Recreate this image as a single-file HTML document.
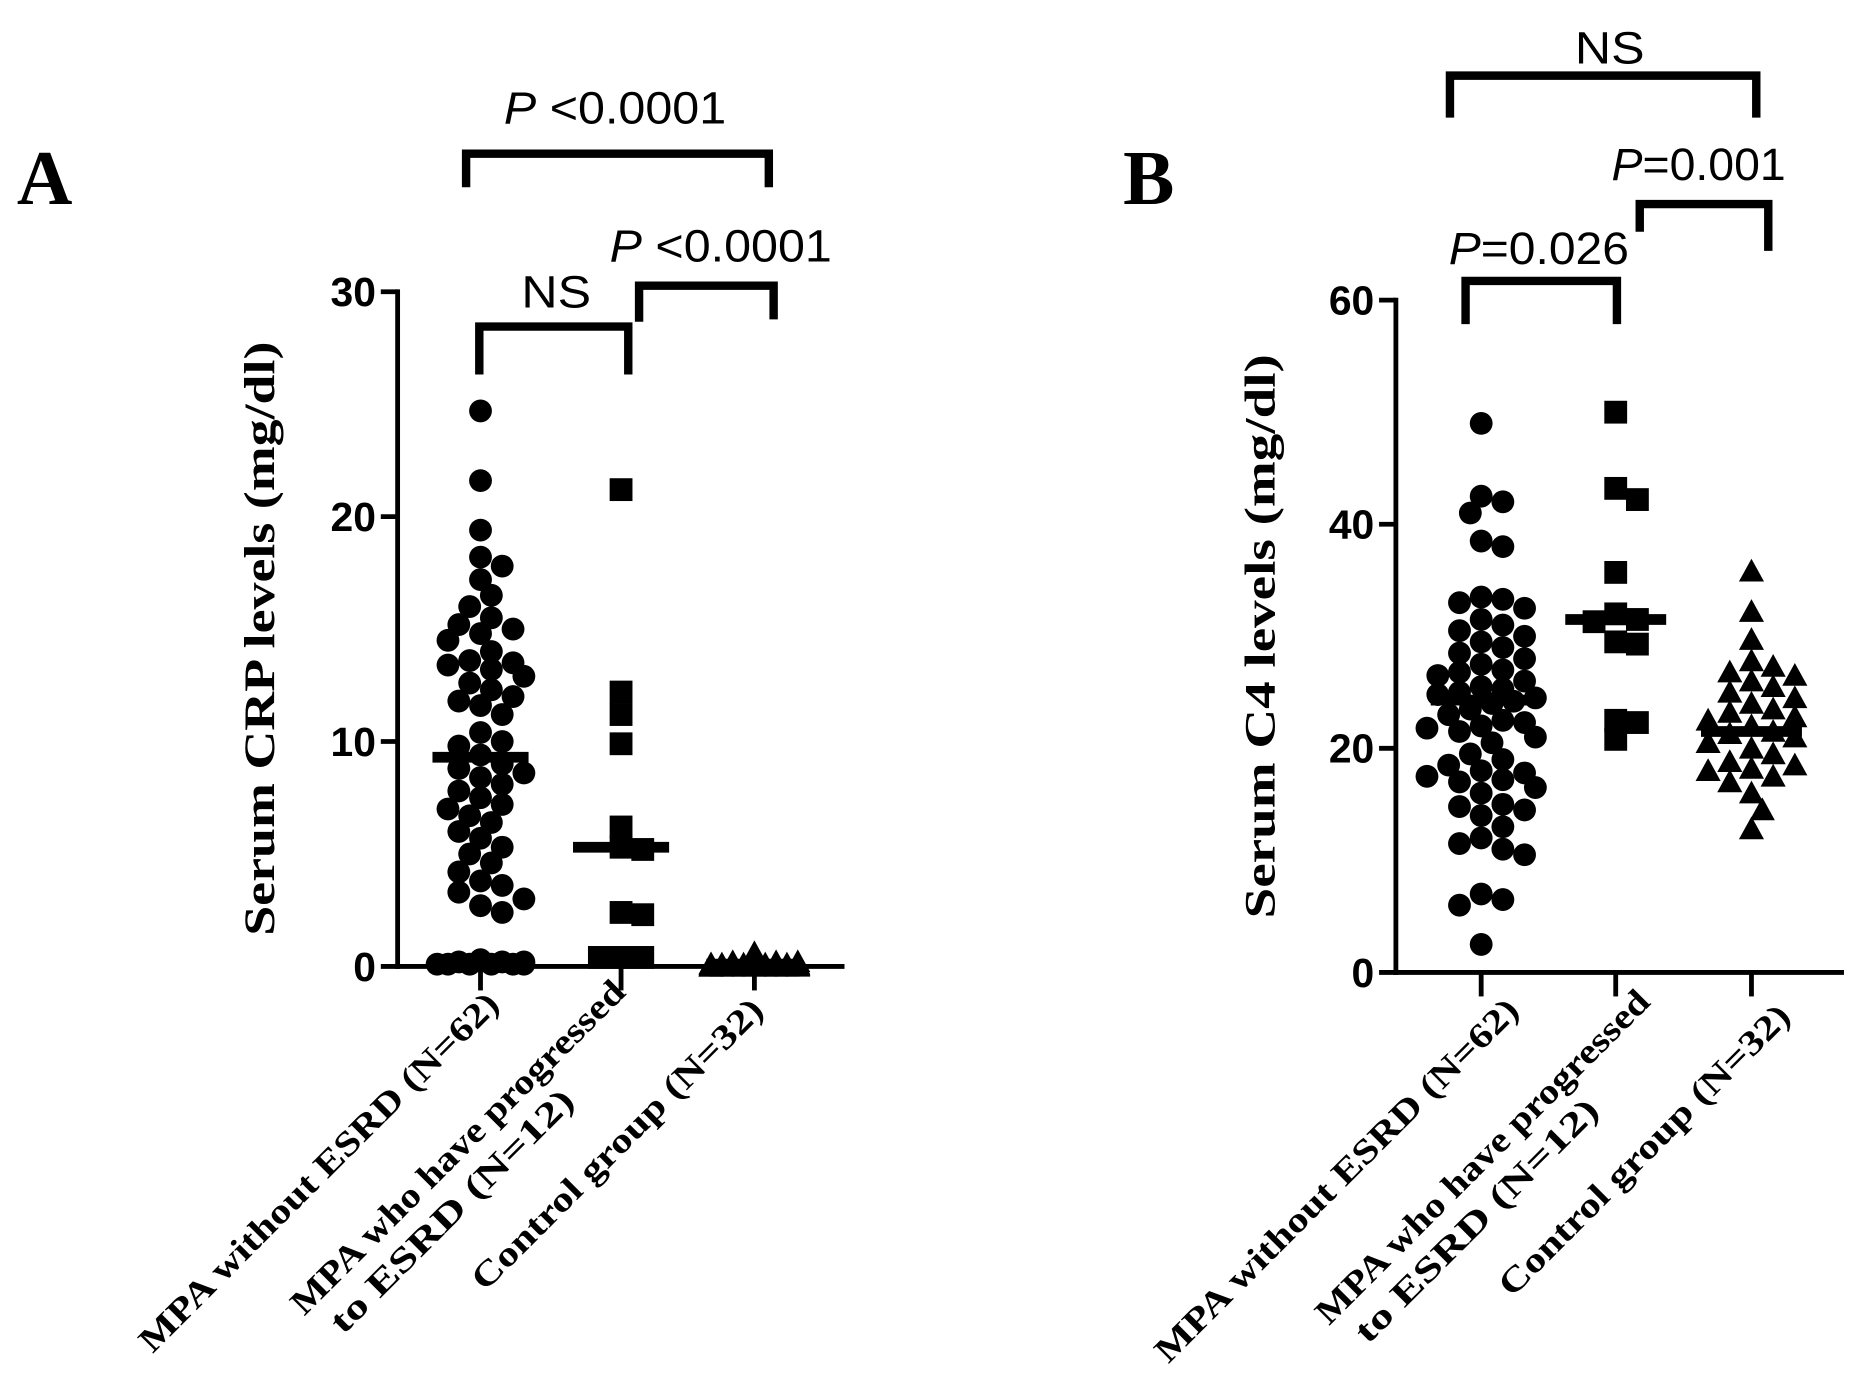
<!DOCTYPE html>
<html><head><meta charset="utf-8"><title>CRP and C4 levels</title>
<style>html,body{margin:0;padding:0;background:#fff;}svg{display:block;}</style></head>
<body>
<svg id="fig" xmlns="http://www.w3.org/2000/svg" width="1874" height="1389" viewBox="0 0 1560 1157" preserveAspectRatio="none">
<rect width="1560" height="1157" fill="#fff"/>
<g id="panelA"></g>
<g id="panelB"></g>
</svg>
<script>
// ---------- DATA ----------
const categories = ["MPA without  ESRD (N=62)", "MPA who have progressed|to ESRD (N=12)", "Control group (N=32)"];
const crpTicks = [0, 10, 20, 30];
const c4Ticks = [0, 20, 40, 60];
const crpGroup1 = [24.7,21.6,19.4,18.2,17.8,17.2,16.5,16.0,15.5,15.2,15.0,14.8,14.5,14.0,13.6,13.5,13.4,13.2,12.9,12.6,12.3,12.0,11.8,11.6,11.2,10.4,10.0,9.8,9.4,9.0,8.8,8.6,8.4,8.1,7.8,7.5,7.2,7.0,6.7,6.4,6.0,5.7,5.3,5.0,4.6,4.2,3.8,3.6,3.3,3.0,2.7,2.4,0.3,0.2,0.2,0.1,0.1,0.1,0.1,0.2,0.1,0.1];
const crpGroup2 = [21.2,12.2,11.2,9.9,6.2,5.3,5.2,2.4,2.3,0.4,0.4,0.4];
const crpGroup3 = [0.6,0.2,0.2,0.2,0.1,0.1,0.1,0.1,0.1,0.1,0.1,0.1,0.05,0.05,0.05,0.05,0.05,0.05,0.05,0.05,0.05,0.05,0.0,0.0,0.0,0.0,0.0,0.0,0.0,0.0,0.0,0.0];
const crpMedians = [9.3, 5.3, 0.1];
const c4Group1 = [49,42.5,42,41,38.5,38,33.5,33.3,33,32.5,31.5,31,30.5,30,29.5,29,28.5,28,27.5,27,26.8,26.5,26,25.5,25.3,25,24.8,24.5,24.2,24,23.5,23,22.5,22.3,22,21.8,21.5,21,20.5,19.5,19,18.5,18,17.8,17.5,17.2,17,16.5,16,15,14.8,14.5,14,13,12,11.5,11,10.5,7,6.5,6,2.5];
const c4Group2 = [50,43.2,42.2,35.7,32,31.5,31.3,29.5,29.3,22.5,22.3,20.8];
const c4Group3 = [35.8,32.2,29.7,27.8,27.3,26.8,26.5,26,25.5,25,24.5,24,23.5,23.2,22.8,22.5,22,21.5,21.3,21,20.5,20,19.5,18.8,18.5,18.2,18,17.5,17,16,14.5,12.8];
const c4Medians = [24.3, 31.5, 21.5];
const crpPvals = ["P <0.0001", "NS", "P <0.0001"];
const c4Pvals = ["NS", "P=0.026", "P=0.001"];

// ---------- HELPERS ----------
const NS = "http://www.w3.org/2000/svg";
function mk(parent, tag, attrs, text) {
  const e = document.createElementNS(NS, tag);
  for (const k in attrs) e.setAttribute(k, attrs[k]);
  if (text !== undefined) e.textContent = text;
  parent.appendChild(e);
  return e;
}
function swarm(values, xc, yS, r, maxK) {
  const order = values.map((v, i) => i).sort((a, b) => values[b] - values[a]);
  const placed = []; const out = new Array(values.length);
  const step = r * 0.95;
  const lim = 2 * r * 0.8;
  order.forEach(i => {
    const y = yS(values[i]);
    let best = 0, bestPen = Infinity;
    for (let t = 0; t <= 2 * maxK; t++) {
      const k = t === 0 ? 0 : (t % 2 ? (t + 1) / 2 : -t / 2);
      const x = xc + k * step;
      let pen = 0;
      placed.forEach(p => { const d = Math.hypot(p.x - x, p.y - y); if (d < lim) pen += (lim - d); });
      if (pen < bestPen) { bestPen = pen; best = x; }
      if (pen === 0) break;
    }
    placed.push({ x: best, y: y }); out[i] = { x: best, y: y };
  });
  return out;
}

function panel(g, cfg) {
  const yS = v => cfg.y0 + (cfg.yTop - cfg.y0) * (v / cfg.yMax);
  let e;
  e = mk(g, "line", { x1: cfg.ax, y1: yS(cfg.yMax) - 2, x2: cfg.ax, y2: cfg.y0 + 2, stroke: "#000", "stroke-width": 4 });
  
  
  e = mk(g, "line", { x1: cfg.ax - 2, y1: cfg.y0, x2: cfg.axEnd, y2: cfg.y0, stroke: "#000", "stroke-width": 4 });
  
  
  cfg.ticks.forEach(t => {
    const y = yS(t);
    const l = mk(g, "line", { x1: cfg.ax - 14, y1: y, x2: cfg.ax, y2: y, stroke: "#000", "stroke-width": 4 });
    
    
    const tx = mk(g, "text", { x: cfg.ax - 18, y: y + 12, "text-anchor": "end", "font-family": "Liberation Sans, sans-serif", "font-weight": "bold", "font-size": 34 }, String(t));
    
    
  });
  cfg.cx.forEach(x => {
    const l = mk(g, "line", { x1: x, y1: cfg.y0, x2: x, y2: cfg.y0 + 20, stroke: "#000", "stroke-width": 4 });
    
    
  });
  const yt = mk(g, "text", { transform: `translate(${cfg.titleX},${cfg.titleY}) rotate(-90)`, "text-anchor": "middle", "font-family": "Liberation Serif, serif", "font-weight": "bold", "font-size": 36, textLength: cfg.titleLen, lengthAdjust: "spacingAndGlyphs" }, cfg.title);
  
  
  const pl = mk(g, "text", { x: cfg.letterX, y: 170, "font-family": "Liberation Serif, serif", "font-weight": "bold", "font-size": 64 }, cfg.letter);
  
  
  categories.forEach((c, i) => {
    const lab = cfg.labels[i];
    const lines = c.split("|");
    const lg = mk(g, "g", { transform: `translate(${lab.x},${lab.y}) rotate(-45)` });
    
    
    lines.forEach((ln, j) => {
      const t = mk(lg, "text", { x: j === 0 ? 0 : -lab.len + 12, y: j * 34, "text-anchor": j === 0 ? "end" : "start", "font-family": "Liberation Serif, serif", "font-weight": "bold", "font-size": 29, textLength: j === 0 ? lab.len : lab.len2, lengthAdjust: "spacingAndGlyphs" }, ln);
      
      
    });
  });
  cfg.groups.forEach((vals, gi) => {
    const pts = swarm(vals, cfg.cx[gi], yS, cfg.r, cfg.maxK[gi]);
    pts.forEach(p => {
      let m;
      const shape = cfg.shapes[gi], r = cfg.r;
      if (shape === "circle") m = mk(g, "circle", { cx: p.x, cy: p.y, r: r, fill: "#000" });
      else if (shape === "square") m = mk(g, "rect", { x: p.x - r, y: p.y - r, width: 2 * r, height: 2 * r, fill: "#000" });
      else m = mk(g, "polygon", { points: `${p.x},${p.y - r * 1.1} ${p.x - r * 1.1},${p.y + r * 0.9} ${p.x + r * 1.1},${p.y + r * 0.9}`, fill: "#000" });
      
      
    });
    const md = mk(g, "line", { x1: cfg.cx[gi] - cfg.medHalf, y1: yS(cfg.medians[gi]), x2: cfg.cx[gi] + cfg.medHalf, y2: yS(cfg.medians[gi]), stroke: "#000", "stroke-width": 9 });
    
    
  });
  cfg.brackets.forEach((b, i) => {
    const p = mk(g, "path", { d: `M${b.x1},${b.yl} L${b.x1},${b.y} L${b.x2},${b.y} L${b.x2},${b.yr}`, fill: "none", stroke: "#000", "stroke-width": 7 });
    
    
    const lbl = cfg.pvals[i];
    const t = mk(g, "text", { x: b.tx, y: b.ty, "text-anchor": "middle", "font-family": "Liberation Sans, sans-serif", "font-size": 38, textLength: b.tl, lengthAdjust: "spacingAndGlyphs" });
    
    
    if (lbl[0] === "P") {
      const s = mk(t, "tspan", { "font-style": "italic" }, "P");
      
      
      t.appendChild(document.createTextNode(lbl.slice(1)));
    } else t.textContent = lbl;
  });
}

panel(document.getElementById("panelA"), {
  letter: "A", letterX: 14, ax: 331, axEnd: 703, y0: 805, yTop: 243, yMax: 30, ticks: crpTicks,
  cx: [400, 517, 628], title: "Serum CRP levels (mg/dl)", titleX: 228, titleY: 532, titleLen: 495,
  labels: [{ x: 417, y: 838, len: 410 }, { x: 522, y: 828, len: 380, len2: 274 }, { x: 637, y: 843, len: 330 }],
  groups: [crpGroup1, crpGroup2, crpGroup3], shapes: ["circle", "square", "triangle"], r: 9.5, maxK: [4, 3, 4],
  medians: crpMedians, medHalf: 40, pvals: crpPvals,
  brackets: [
    { x1: 388, x2: 640, y: 128, yl: 156, yr: 156, tx: 512, ty: 103, tl: 185 },
    { x1: 399, x2: 523, y: 272, yl: 312, yr: 312, tx: 463, ty: 256, tl: 58 },
    { x1: 532, x2: 644, y: 238, yl: 268, yr: 266, tx: 600, ty: 218, tl: 185 }
  ]
});
panel(document.getElementById("panelB"), {
  letter: "B", letterX: 935, ax: 1162, axEnd: 1535, y0: 810, yTop: 250, yMax: 60, ticks: c4Ticks,
  cx: [1233, 1345, 1458], title: "Serum C4 levels (mg/dl)", titleX: 1061, titleY: 530, titleLen: 470,
  labels: [{ x: 1266, y: 843, len: 415 }, { x: 1375, y: 836, len: 380, len2: 274 }, { x: 1492, y: 848, len: 330 }],
  groups: [c4Group1, c4Group2, c4Group3], shapes: ["circle", "square", "triangle"], r: 9.5, maxK: [5, 3, 4],
  medians: c4Medians, medHalf: 42, pvals: c4Pvals,
  brackets: [
    { x1: 1207, x2: 1462, y: 63, yl: 98, yr: 98, tx: 1340, ty: 53, tl: 58 },
    { x1: 1220, x2: 1346, y: 234, yl: 270, yr: 270, tx: 1281, ty: 220, tl: 150 },
    { x1: 1365, x2: 1472, y: 170, yl: 193, yr: 209, tx: 1414, ty: 150, tl: 145 }
  ]
});
</script>
</body></html>
